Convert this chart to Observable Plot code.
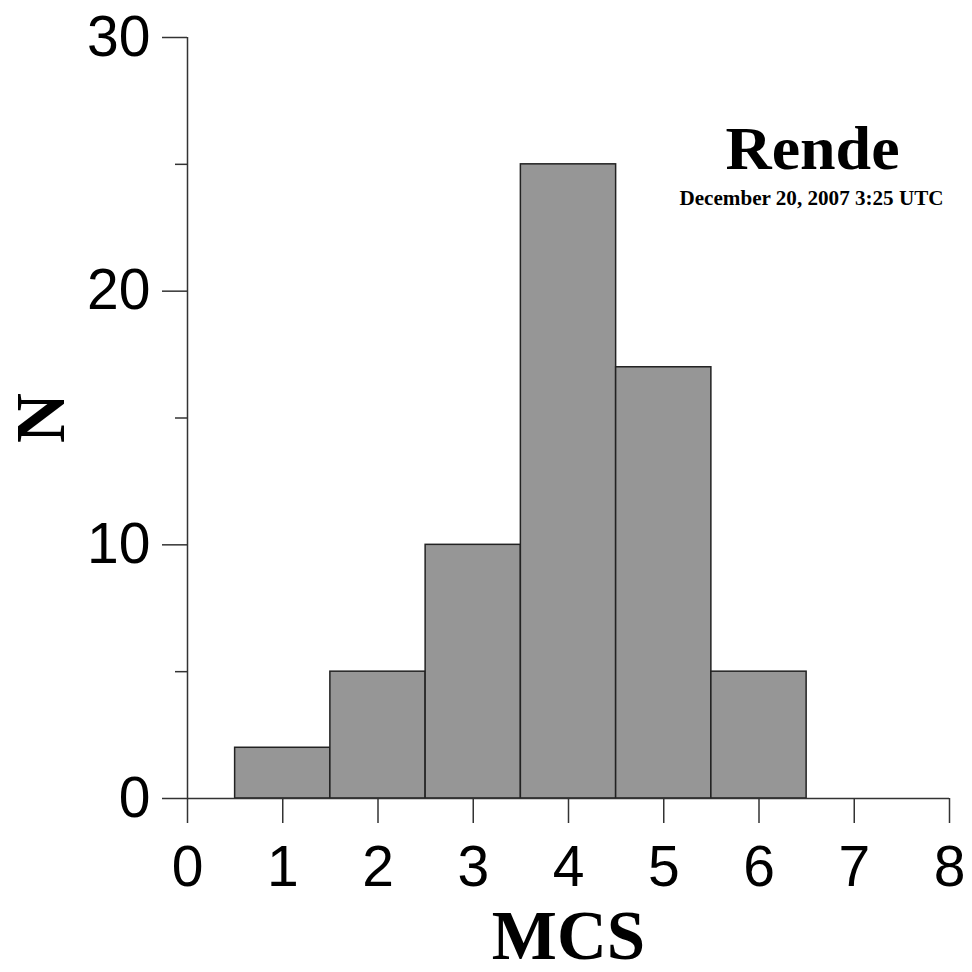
<!DOCTYPE html>
<html>
<head>
<meta charset="utf-8">
<script src="https://cdn.jsdelivr.net/npm/d3@7"></script>
<script src="https://cdn.jsdelivr.net/npm/@observablehq/plot@0.6"></script>
<style>
  html, body { margin: 0; padding: 0; background: #fff; }
  #chart svg { display: block; }
  g[aria-label="y-axis label"] text, g[aria-label="x-axis label"] text {
    font-family: "Liberation Serif", "DejaVu Serif", serif;
    font-weight: bold;
    font-size: 69px;
  }
</style>
</head>
<body>
<div id="chart"></div>
<script>
const binLow   = [0.5, 1.5, 2.5, 3.5, 4.5, 5.5];
const binHigh  = [1.5, 2.5, 3.5, 4.5, 5.5, 6.5];
const counts   = [2, 5, 10, 25, 17, 5];
const xTicks   = [0, 1, 2, 3, 4, 5, 6, 7, 8];
const yMajor   = [0, 10, 20, 30];
const yMinor   = [5, 15, 25];
const title    = "Rende";
const subtitle = "December 20, 2007 3:25 UTC";

const bars = counts.map((c, i) => ({x1: binLow[i], x2: binHigh[i], n: c}));

const axisColor = "#333";
const chart = Plot.plot({
  width: 972,
  height: 972,
  marginLeft: 187,
  marginRight: 23,
  marginTop: 37,
  marginBottom: 174,
  style: {fontFamily: "'Liberation Sans', Arial, sans-serif", fontSize: "57px", color: "#000", background: "#fff", overflow: "visible"},
  x: {domain: [0, 8]},
  y: {domain: [0, 30]},
  marks: [
    Plot.rectY(bars, {x1: "x1", x2: "x2", y: "n", fill: "#969696", stroke: "#222", strokeWidth: 1.5}),
    Plot.ruleX([0], {y1: 0, y2: 30, stroke: axisColor, strokeWidth: 1.5}),
    Plot.ruleY([0], {x1: 0, x2: 8, stroke: axisColor, strokeWidth: 1.5}),
    Plot.axisX({ticks: xTicks, tickSize: 25, tickPadding: 22, stroke: axisColor, strokeWidth: 1.5, fill: "#000",
                label: "MCS", labelAnchor: "center", labelArrow: "none", labelOffset: 160}),
    Plot.axisY({ticks: yMajor, tickSize: 25, tickPadding: 12, stroke: axisColor, strokeWidth: 1.5, fill: "#000",
                label: "N", labelAnchor: "center", labelArrow: "none", labelOffset: 173}),
    Plot.axisY({ticks: yMinor, tickSize: 12, tickFormat: () => "", stroke: axisColor, strokeWidth: 1.5, label: null}),
    Plot.text([title], {frameAnchor: "top-right", dx: -137, dy: 131, fontFamily: "'Liberation Serif', serif", fontWeight: "bold", fontSize: 62, fill: "#000", textAnchor: "middle", lineAnchor: "bottom", className: "ttl"}),
    Plot.text([subtitle], {frameAnchor: "top-right", dx: -138, dy: 167, fontFamily: "'Liberation Serif', serif", fontWeight: "bold", fontSize: 20, fill: "#000", textAnchor: "middle", lineAnchor: "bottom", className: "sub"})
  ]
});
d3.select(chart).selectAll("g.ttl text").attr("textLength", 174).attr("lengthAdjust", "spacingAndGlyphs");
d3.select(chart).selectAll("g.sub text").attr("textLength", 264).attr("lengthAdjust", "spacingAndGlyphs");
document.getElementById("chart").appendChild(chart);
</script>
</body>
</html>
